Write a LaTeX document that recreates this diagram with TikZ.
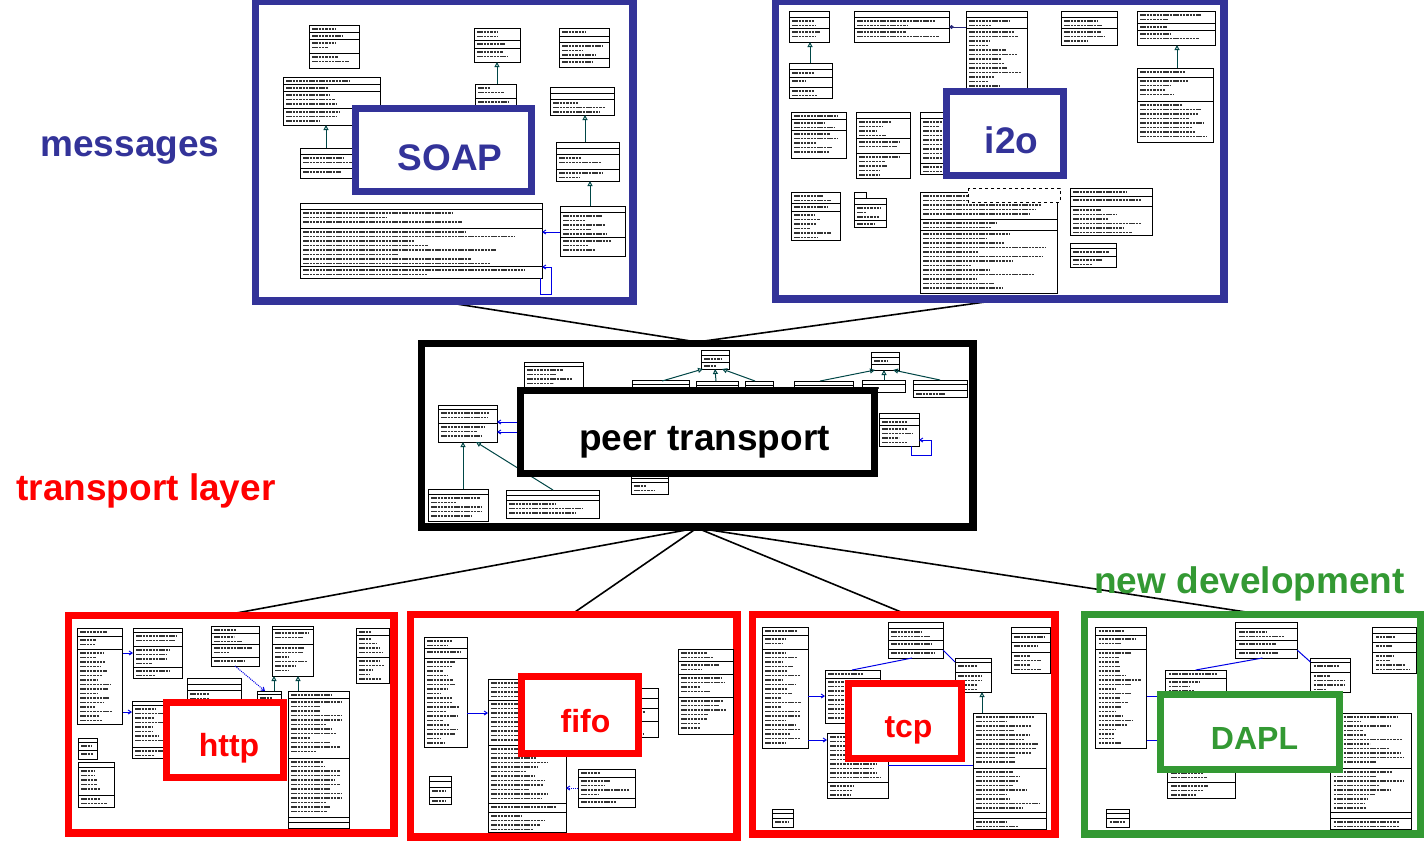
\documentclass[tikz,border=0pt]{standalone}
\usepackage{fontspec}
\setmainfont{Liberation Sans}
\usetikzlibrary{fit,arrows.meta}
\definecolor{msgblue}{RGB}{51,51,153}
\definecolor{trred}{RGB}{255,0,0}
\definecolor{devgreen}{RGB}{51,153,51}
\definecolor{inhcol}{RGB}{0,70,70}
\definecolor{assoc}{RGB}{0,0,230}
\tikzset{
 panel/.style={line width=5pt, inner sep=0pt, fill=white},
 lblbox/.style={line width=7pt, inner sep=0pt, fill=white},
 bigtext/.style={font=\fontsize{37}{40}\selectfont\bfseries, inner sep=0pt, anchor=base},
 smalltext/.style={font=\fontsize{32}{36}\selectfont\bfseries, inner sep=0pt, anchor=base},
 conn/.style={line width=1.6pt, draw=black},
 uml/.style={line width=0.9pt, draw=black, fill=white},
 umlsep/.style={line width=0.9pt, draw=black},
 ftext/.style={line width=1.2pt, draw=black!80, dash pattern=on 2.5pt off 0.8pt},
 inh/.style={draw=inhcol, line width=1pt, -{Triangle[open,length=5pt,width=5pt]}},
 asc/.style={draw=assoc, line width=1pt, -{Straight Barb[length=3pt,width=4pt]}},
 ascl/.style={draw=assoc, line width=1pt},
}
\pgfmathsetseed{4242}
\newcommand{\ubox}[5]{\draw[uml] (#1,#2) rectangle (#3,#4);
  \foreach \s in {#5}{\draw[umlsep] (#1,\s) -- (#3,\s);}
  \foreach \cpb [remember=\cpb as \cpa (initially #2)] in {#5,#4}{
    \pgfmathtruncatemacro\nrows{(\cpb-\cpa-2)/4.5}
    \ifnum\nrows>0
      \foreach \kr in {1,...,\nrows}{
        \pgfmathsetmacro\yrow{\cpa+\kr*4.5-0.6}
        \pgfmathsetmacro\flen{(#3-#1-6)*(0.35+0.6*rnd)}
        \draw[ftext] (#1+3,\yrow) -- ++(\flen,0);
      }
    \fi
  }}
\newcommand{\tcpstuff}{%
  \ubox{762}{627}{808}{748}{635,649}
  \ubox{888}{622}{943}{658}{628,640,649}
  \ubox{1011}{627}{1050}{673}{633,642,652}
  \ubox{955}{658}{991}{692}{662,672}
  \ubox{825}{670}{880}{723}{678}
  \ubox{827}{733}{888}{798}{782}
  \ubox{973}{713}{1046}{829}{768,812,818}
  \ubox{772}{809}{793}{827}{813,818}
  \draw[ascl] (912,658) -- (852,670);
  \draw[ascl] (943,650) -- (955,662);
  \draw[asc] (808,696) -- (825,696);
  \draw[asc] (808,740) -- (827,740);
  \draw[ascl] (888,765) -- (973,765);
  \draw[inh] (982,713) -- (982,692);
}
\begin{document}
\begin{tikzpicture}[x=1pt,y=-1pt]
\fill[white] (0,0) rectangle (1424,844);
\useasboundingbox (0,0) rectangle (1424,844);

% panels
\node[panel, draw=msgblue, fit={(256.5,2.5) (631.5,299.5)}] (soap) {};
\node[panel, draw=msgblue, fit={(776.5,2.5) (1222.5,297.5)}] (i2o) {};
\node[panel, draw=black, fit={(422.5,344.5) (971.5,525.5)}] (peer) {};
\node[panel, draw=trred, fit={(69.5,616.5) (392.5,831.5)}] (http) {};
\node[panel, draw=trred, fit={(411.5,615.5) (735.5,835.5)}] (fifo) {};
\node[panel, draw=trred, fit={(753.5,615.5) (1053.5,832.5)}] (tcp) {};
\node[panel, draw=devgreen, fit={(1085.5,615.5) (1419.5,832.5)}] (dapl) {};

% connectors
\draw[conn] (soap.south) -- (peer.north);
\draw[conn] (i2o.south) -- (peer.north);
\draw[conn] (peer.south) -- (http.north);
\draw[conn] (peer.south) -- (fifo.north);
\draw[conn] (peer.south) -- (tcp.north);
\draw[conn] (peer.south) -- (dapl.north);
% redraw frames over connector ends
\foreach \n/\c in {soap/msgblue,i2o/msgblue,peer/black,http/trred,fifo/trred,tcp/trred,dapl/devgreen}{
  \draw[line width=5pt, draw=\c] (\n.north west) rectangle (\n.south east);}

% ---- SOAP contents
\ubox{309}{25}{359}{68}{32,39,53}
\ubox{283}{77}{380}{125}{84,91,108}
\ubox{300}{148}{370}{178}{154,168}
\ubox{474}{28}{520}{62}{40,48}
\ubox{475}{84}{516}{120}{98}
\ubox{559}{28}{609}{67}{36,42,58}
\ubox{550}{87}{614}{115}{93,99}
\ubox{556}{142}{619}{181}{148,154,169}
\ubox{300}{203}{542}{278}{209,228,266}
\ubox{560}{206}{625}{256}{212,237}
\draw[inh] (326,148) -- (326,125);
\draw[inh] (497,84) -- (497,62);
\draw[inh] (585,142) -- (585,115);
\draw[inh] (590,206) -- (590,181);
\draw[asc] (560,232) -- (542,232);
\draw[asc] (540,278) -- (540,294) -- (551,294) -- (551,267) -- (542,267);

% ---- i2o contents
\ubox{789}{11}{829}{42}{17,28}
\ubox{854}{11}{949}{42}{17,28}
\ubox{966}{11}{1027}{100}{17,28}
\ubox{1061}{11}{1117}{45}{17,28}
\ubox{1137}{11}{1215}{45}{23,30}
\ubox{789}{63}{832}{98}{69,77,87}
\ubox{1137}{68}{1213}{142}{77,101}
\ubox{791}{112}{846}{158}{119,130}
\ubox{856}{112}{910}{178}{118,138,153}
\ubox{920}{112}{970}{174}{118,163}
\ubox{791}{192}{840}{240}{203,211}
\draw[uml] (854,192) rectangle (866,198);
\ubox{854}{198}{886}{227}{204,220}
\ubox{920}{192}{1057}{293}{219,230}
\draw[uml, dashed] (968,188) rectangle (1060,202);
\ubox{1070}{188}{1152}{235}{196,206}
\ubox{1070}{243}{1116}{267}{248,256}
\draw[inh] (810,63) -- (810,42);
\draw[inh] (1177,68) -- (1177,45);
\draw[draw=msgblue!80!black, line width=1pt, {Diamond[length=5pt,width=4pt]}-] (949,27) -- (966,27);

% ---- peer transport contents
\ubox{701}{350}{729}{369}{355,362}
\ubox{871}{352}{899}{370}{357,364}
\ubox{524}{362}{583}{400}{366}
\ubox{632}{380}{689}{400}{384}
\ubox{696}{381}{738}{400}{385}
\ubox{745}{381}{773}{400}{385}
\ubox{794}{381}{853}{393}{385}
\ubox{862}{380}{905}{392}{384}
\ubox{913}{380}{967}{397}{384,390}
\ubox{438}{405}{497}{442}{409,423}
\ubox{879}{413}{919}{446}{418,425}
\ubox{428}{489}{488}{521}{494}
\ubox{506}{490}{599}{518}{495,500}
\ubox{631}{470}{668}{494}{478,482}
\draw[inh] (662,381) -- (703,369);
\draw[inh] (716,381) -- (715,369);
\draw[inh] (755,381) -- (722,369);
\draw[inh] (820,381) -- (875,370);
\draw[inh] (884,380) -- (884,370);
\draw[inh] (940,380) -- (893,370);
\draw[inh] (463,489) -- (463,442);
\draw[inh] (553,490) -- (476,442);
\draw[asc] (517,422) -- (497,422);
\draw[asc] (517,432) -- (497,432);
\draw[asc] (911,446) -- (911,455) -- (931,455) -- (931,440) -- (919,440);

% ---- http contents
\ubox{77}{628}{122}{724}{636,649}
\ubox{133}{628}{182}{678}{632,646,667}
\ubox{211}{626}{259}{666}{633,644,657}
\ubox{272}{626}{313}{676}{629,644}
\ubox{356}{628}{389}{683}{635,657}
\ubox{187}{678}{241}{710}{684,690}
\ubox{257}{691}{281}{710}{694}
\ubox{288}{691}{349}{828}{698,758,817,822}
\ubox{132}{701}{175}{758}{705,747}
\ubox{78}{738}{97}{759}{742,750}
\ubox{78}{762}{114}{807}{767,795}
\draw[asc] (123,653) -- (133,653);
\draw[asc] (123,712) -- (132,712);
\draw[asc, densely dotted] (235,666) -- (265,691);
\draw[inh] (274,691) -- (274,676);
\draw[inh] (298,691) -- (298,676);

% ---- fifo contents
\ubox{424}{637}{467}{747}{648,658}
\ubox{488}{679}{566}{832}{700,745,803,812}
\ubox{600}{688}{658}{737}{698,708,721}
\ubox{678}{649}{733}{734}{661,674,697}
\ubox{578}{769}{635}{807}{777,798}
\ubox{429}{776}{451}{804}{781,787,797}
\draw[asc] (467,713) -- (488,713);
\draw[asc, densely dotted] (578,788) -- (566,788);

% ---- tcp and DAPL contents
\tcpstuff
\begin{scope}[xshift=1083pt, xscale=1.115, xshift=-751pt]
\tcpstuff
\end{scope}

% ---- label boxes
\node[lblbox, draw=msgblue, fit={(355.5,108.5) (531.5,191.5)}] (soapl) {};
\node[bigtext, text=msgblue] (soapt) at (450,170) {SOAP};
\node[lblbox, draw=msgblue, fit={(946.5,91.5) (1063.5,175.5)}] (i2ol) {};
\node[bigtext, text=msgblue] (i2ot) at (1011.5,153) {i2o};
\node[lblbox, draw=black, fit={(520.5,390.5) (874.5,473.5)}] (peerl) {};
\node[bigtext, text=black] (peert) at (704.5,450) {peer transport};
\node[lblbox, draw=trred, fit={(166.5,702.5) (283.5,777.5)}] (httpl) {};
\node[smalltext, text=trred] (httpt) at (229,756) {http};
\node[lblbox, draw=trred, fit={(521.5,676.5) (638.5,753.5)}] (fifol) {};
\node[smalltext, text=trred] (fifot) at (585.5,732) {fifo};
\node[lblbox, draw=trred, fit={(848.5,683.5) (961.5,758.5)}] (tcpl) {};
\node[smalltext, text=trred] (tcpt) at (908.5,737) {tcp};
\node[lblbox, draw=devgreen, fit={(1160.5,694.5) (1339.5,769.5)}] (dapll) {};
\node[smalltext, text=devgreen] (daplt) at (1254.5,749) {DAPL};

% ---- side captions
\node[bigtext, text=msgblue] (msgs) at (130,156) {messages};
\node[bigtext, text=trred] (trl) at (146,500) {transport layer};
\node[bigtext, text=devgreen] (newdev) at (1249.5,593) {new development};
\end{tikzpicture}
\end{document}
